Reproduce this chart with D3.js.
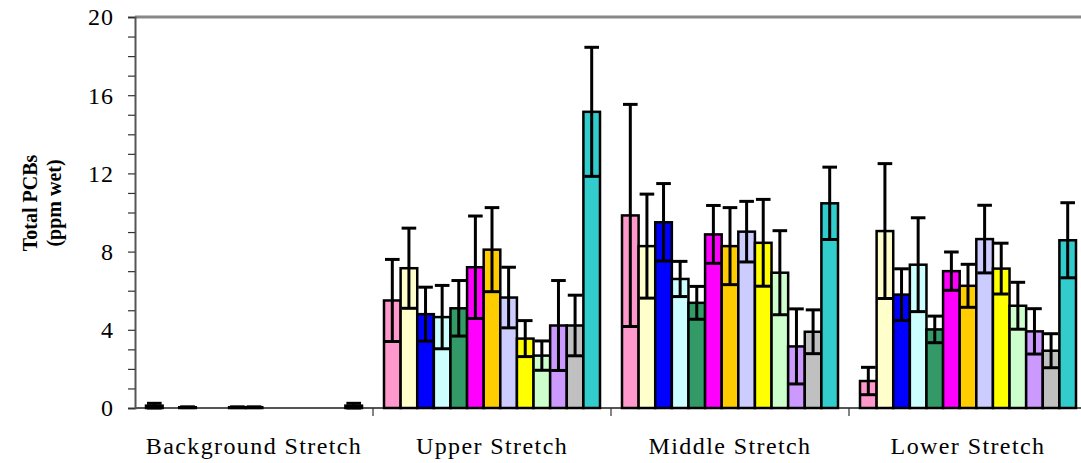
<!DOCTYPE html>
<html>
<head>
<meta charset="utf-8">
<script src="https://cdn.jsdelivr.net/npm/d3@7"></script>
<style>
  body { margin: 0; background: #fff; }
  text { font-family: "Liberation Serif", "Times New Roman", serif; }
</style>
</head>
<body>
<svg id="chart" width="1081" height="463"></svg>
<script>
// categories along the x axis
var groups = ["Background Stretch", "Upper Stretch", "Middle Stretch", "Lower Stretch"];

// 13 series per group, one colour each
var seriesColors = ["#FF99CC", "#FFFFCC", "#0000FF", "#CCFFFF", "#339966", "#FF00FF", "#FFCC00",
                    "#CCCCFF", "#FFFF00", "#CCFFCC", "#CC99FF", "#C0C0C0", "#33CCCC"];

// mean values per group
var bgMean     = [0.12, 0, 0.04, 0, 0, 0.04, 0.04, 0, 0, 0, 0, 0, 0.12];
var upperMean  = [5.5, 7.15, 4.8, 4.65, 5.1, 7.2, 8.1, 5.65, 3.55, 2.68, 4.22, 4.22, 15.15];
var middleMean = [9.85, 8.28, 9.5, 6.6, 5.38, 8.88, 8.28, 9.02, 8.45, 6.92, 3.15, 3.9, 10.47];
var lowerMean  = [1.38, 9.05, 5.8, 7.33, 4.02, 7.0, 6.25, 8.64, 7.13, 5.23, 3.92, 2.93, 8.58];

// standard deviations (error bars)
var bgSd     = [0.12, 0, 0.02, 0, 0, 0.02, 0.02, 0, 0, 0, 0, 0, 0.12];
var upperSd  = [2.1, 2.05, 1.38, 1.62, 1.42, 2.62, 2.15, 1.55, 0.92, 0.75, 2.3, 1.55, 3.3];
var middleSd = [5.68, 2.66, 1.98, 0.9, 0.84, 1.48, 1.97, 1.55, 2.22, 2.15, 1.92, 1.12, 1.85];
var lowerSd  = [0.7, 3.45, 1.32, 2.4, 0.68, 0.98, 1.1, 1.73, 1.3, 1.2, 1.16, 0.87, 1.92];

var yTicks = [0, 4, 8, 12, 16, 20];

var means = [bgMean, upperMean, middleMean, lowerMean];
var sds = [bgSd, upperSd, middleSd, lowerSd];

var data = [];
groups.forEach(function (g, gi) {
    seriesColors.forEach(function (c, si) {
        data.push({ group: g, s: si, mean: means[gi][si], sd: sds[gi][si], color: c });
    });
});

var svg = d3.select("#chart");
var plotLeft = 135, plotRight = 1087, plotTop = 17, plotBottom = 408;

var x0 = d3.scaleBand().domain(groups).range([plotLeft, plotRight]);
var x1 = d3.scaleBand().domain(d3.range(seriesColors.length)).range([11, x0.bandwidth() - 11]);
var y = d3.scaleLinear().domain([0, 20]).range([plotBottom, plotTop]);

// top border of the plot area
svg.append("line")
    .attr("x1", plotLeft).attr("x2", 1081)
    .attr("y1", plotTop).attr("y2", plotTop)
    .attr("stroke", "#888").attr("stroke-width", 3);

// y axis: minor ticks every unit, labels every 4
var yAxis = svg.append("g")
    .attr("transform", "translate(" + plotLeft + ",0)")
    .call(d3.axisLeft(y).tickValues(d3.range(0, 21, 1)).tickSize(7).tickFormat(function (d) {
        return yTicks.indexOf(d) >= 0 ? d : "";
    }));
yAxis.select(".domain").attr("stroke", "#555").attr("stroke-width", 2);
yAxis.selectAll(".tick line").attr("stroke", "#333").attr("stroke-width", 1.2);
yAxis.selectAll("text")
    .attr("font-size", 24)
    .attr("fill", "#000")
    .attr("x", -21)
    .attr("dy", "0.33em")
    .style("letter-spacing", "1px")
    .style("font-family", "'Liberation Serif', serif");

// x axis
var xAxis = svg.append("g")
    .attr("transform", "translate(0," + plotBottom + ")")
    .call(d3.axisBottom(x0).tickSize(0).tickSizeOuter(0));
xAxis.select(".domain").attr("stroke", "#555").attr("stroke-width", 2).attr("d", "M" + plotLeft + ",0H1081");
xAxis.selectAll("text")
    .attr("font-size", 24)
    .attr("fill", "#000")
    .attr("y", 29)
    .style("letter-spacing", "1.4px")
    .style("font-family", "'Liberation Serif', serif");

// category separator ticks
svg.append("g").selectAll("line")
    .data(groups.slice(1))
    .join("line")
    .attr("x1", function (d) { return x0(d); })
    .attr("x2", function (d) { return x0(d); })
    .attr("y1", plotBottom).attr("y2", plotBottom + 8)
    .attr("stroke", "#333").attr("stroke-width", 1.2);

// bars
var bw = x1.bandwidth();
var bars = svg.append("g").selectAll("g")
    .data(data)
    .join("g")
    .attr("transform", function (d) { return "translate(" + (x0(d.group) + x1(d.s)) + ",0)"; });

bars.append("rect")
    .attr("x", 0)
    .attr("width", bw)
    .attr("y", function (d) { return y(d.mean); })
    .attr("height", function (d) { return plotBottom - y(d.mean); })
    .attr("fill", function (d) { return d.color; })
    .attr("stroke", "#000")
    .attr("stroke-width", 2.5);

// error bars
var eb = bars.filter(function (d) { return d.sd > 0; });
eb.append("line")
    .attr("x1", bw / 2).attr("x2", bw / 2)
    .attr("y1", function (d) { return y(Math.max(0, d.mean - d.sd)); })
    .attr("y2", function (d) { return y(d.mean + d.sd); })
    .attr("stroke", "#000").attr("stroke-width", 3);
eb.append("line")
    .attr("x1", 1).attr("x2", bw - 1)
    .attr("y1", function (d) { return y(d.mean + d.sd); })
    .attr("y2", function (d) { return y(d.mean + d.sd); })
    .attr("stroke", "#000").attr("stroke-width", 3);
eb.append("line")
    .attr("x1", 1).attr("x2", bw - 1)
    .attr("y1", function (d) { return y(Math.max(0, d.mean - d.sd)); })
    .attr("y2", function (d) { return y(Math.max(0, d.mean - d.sd)); })
    .attr("stroke", "#000").attr("stroke-width", 3);

// y axis title
var title = svg.append("text")
    .attr("transform", "translate(0,203) rotate(-90)")
    .attr("text-anchor", "middle")
    .attr("font-weight", "bold")
    .attr("font-size", 20);
title.append("tspan").attr("x", 0).attr("y", 37).text("Total PCBs");
title.append("tspan").attr("x", 0).attr("y", 61).text("(ppm wet)");
</script>
</body>
</html>
